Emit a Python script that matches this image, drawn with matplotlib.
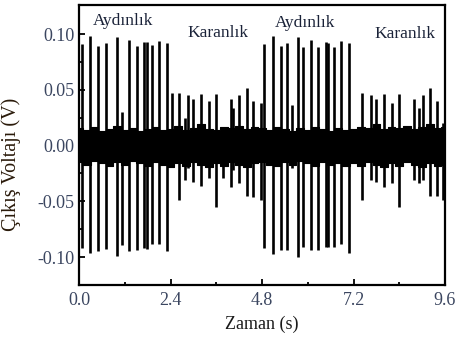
import numpy as np
import matplotlib.pyplot as plt

# ==== data ====
# spike events: time (s), positive peak (V), negative peak (V)
light1_t = [0.08, 0.29, 0.50, 0.71, 1.00, 1.13, 1.31, 1.52, 1.71, 1.79, 1.92, 2.10, 2.31]
light1_top = [0.091, 0.098, 0.089, 0.092, 0.097, 0.030, 0.095, 0.089, 0.093, 0.093, 0.090, 0.094, 0.092]
light1_bot = [-0.092, -0.096, -0.095, -0.093, -0.099, -0.089, -0.095, -0.094, -0.092, -0.093, -0.088, -0.088, -0.095]

dark1_t = [2.44, 2.62, 2.78, 2.86, 2.99, 3.20, 3.41, 3.60, 3.78, 3.99, 4.04, 4.20, 4.41, 4.57, 4.78]
dark1_top = [0.047, 0.047, 0.025, 0.045, 0.042, 0.046, 0.040, 0.046, 0.016, 0.042, 0.034, 0.045, 0.052, 0.040, 0.038]
dark1_bot = [-0.016, -0.049, -0.031, -0.020, -0.033, -0.036, -0.029, -0.055, -0.029, -0.037, -0.022, -0.034, -0.045, -0.046, -0.049]

light2_t = [4.86, 5.09, 5.30, 5.46, 5.59, 5.75, 5.88, 6.09, 6.27, 6.48, 6.54, 6.69, 6.88, 7.09]
light2_top = [0.091, 0.098, 0.089, 0.092, 0.036, 0.097, 0.088, 0.095, 0.088, 0.093, 0.092, 0.088, 0.094, 0.092]
light2_bot = [-0.092, -0.097, -0.094, -0.094, -0.020, -0.100, -0.091, -0.094, -0.094, -0.091, -0.091, -0.091, -0.088, -0.096]

dark2_t = [7.43, 7.66, 7.80, 8.01, 8.22, 8.40, 8.79, 8.92, 9.03, 9.21, 9.40, 9.55]
dark2_top = [0.047, 0.045, 0.042, 0.046, 0.038, 0.046, 0.042, 0.034, 0.045, 0.052, 0.040, 0.020]
dark2_bot = [-0.049, -0.031, -0.033, -0.037, -0.034, -0.055, -0.031, -0.034, -0.031, -0.045, -0.045, -0.049]

# noise band envelope, every 0.2 s
band_t = [i * 0.2 for i in range(49)]
band_hi = [0.016, 0.014, 0.017, 0.013, 0.015, 0.018, 0.014, 0.016, 0.013, 0.015, 0.017, 0.014,
           0.015, 0.018, 0.014, 0.016, 0.019, 0.015, 0.014, 0.017, 0.016, 0.018, 0.015, 0.017,
           0.016, 0.014, 0.017, 0.015, 0.013, 0.016, 0.014, 0.017, 0.015, 0.013, 0.016, 0.014,
           0.015, 0.017, 0.016, 0.019, 0.015, 0.017, 0.016, 0.018, 0.015, 0.017, 0.019, 0.016, 0.017]
band_lo = [-0.015, -0.017, -0.014, -0.016, -0.018, -0.015, -0.017, -0.014, -0.016, -0.018, -0.015, -0.017,
           -0.019, -0.016, -0.018, -0.015, -0.017, -0.019, -0.016, -0.018, -0.015, -0.017, -0.019, -0.016,
           -0.015, -0.017, -0.018, -0.015, -0.017, -0.014, -0.016, -0.018, -0.015, -0.017, -0.016, -0.018,
           -0.016, -0.018, -0.015, -0.017, -0.019, -0.016, -0.018, -0.015, -0.017, -0.019, -0.016, -0.018, -0.017]

labels = ["Aydınlık", "Karanlık", "Aydınlık", "Karanlık"]
label_x = [1.15, 3.65, 5.93, 8.56]
label_y = [0.112, 0.101, 0.110, 0.100]

x_ticks = [0.0, 2.4, 4.8, 7.2, 9.6]
y_ticks = [-0.10, -0.05, 0.00, 0.05, 0.10]

# ==== plot ====
plt.rcParams['font.family'] = ['Liberation Serif', 'DejaVu Serif']

fig = plt.figure(figsize=(4.55, 3.4), dpi=100)
ax = fig.add_axes([0.174, 0.162, 0.804, 0.823])

ax.fill_between(band_t, band_lo, band_hi, color='black', lw=0.8, step='mid')

for t, top, bot in [(light1_t, light1_top, light1_bot), (dark1_t, dark1_top, dark1_bot),
                    (light2_t, light2_top, light2_bot), (dark2_t, dark2_top, dark2_bot)]:
    ax.vlines(t, bot, top, color='black', lw=1.9)

for s, x, y in zip(labels, label_x, label_y):
    ax.text(x, y, s, ha='center', va='center', fontsize=12.5, color='#1a2238')

ax.set_xlim(0, 9.6)
ax.set_ylim(-0.125, 0.126)
ax.set_xticks(x_ticks)
ax.set_xticks([1.2, 3.6, 6.0, 8.4], minor=True)
ax.set_xticklabels([f"{v:.1f}" for v in x_ticks])
ax.set_yticks(y_ticks)
ax.set_yticks([-0.075, -0.025, 0.025, 0.075], minor=True)
ax.set_yticklabels([f"{v:.2f}" for v in y_ticks])
ax.tick_params(which='both', direction='in', labelsize=13, labelcolor='#3b4660', width=1.3)
ax.tick_params(which='major', length=4)
ax.tick_params(axis='y', which='major', pad=3.5)
ax.tick_params(axis='x', which='major', pad=5)
ax.tick_params(which='minor', length=2.5)
for sp in ax.spines.values():
    sp.set_linewidth(1.6)

ax.set_xlabel("Zaman (s)", fontsize=13, color='#1a1a1a', labelpad=5)
ax.set_ylabel("Çıkış Voltajı (V)", fontsize=14.5, color='#2a1a0a')
ax.yaxis.set_label_coords(-0.16, 0.43)

fig.savefig("out.png", dpi=100)
